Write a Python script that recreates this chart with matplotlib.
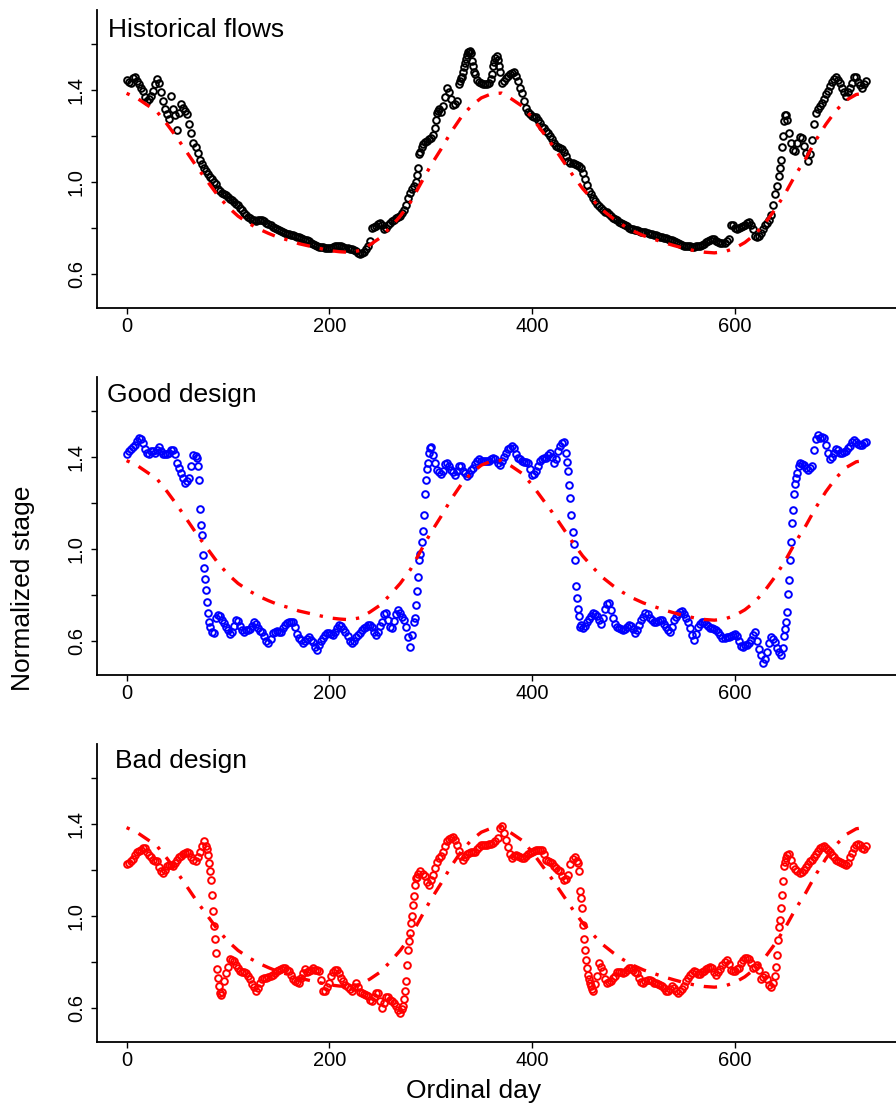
import numpy as np
import matplotlib
matplotlib.use('Agg')
import matplotlib.pyplot as plt

# normalized stage, one value every 2 days (day 0..730), 10 values per row
hist_stage = [
    1.442, 1.435, 1.432, 1.45, 1.455, 1.44, 1.425, 1.41, 1.395, 1.37,      # 0
    1.352, 1.36, 1.372, 1.395, 1.425, 1.446, 1.43, 1.39, 1.35, 1.315,      # 20
    1.294, 1.272, 1.374, 1.316, 1.29, 1.224, 1.30, 1.338, 1.323, 1.31,     # 40
    1.294, 1.25, 1.214, 1.17, 1.15, 1.127, 1.095, 1.078, 1.06, 1.047,      # 60
    1.035, 1.022, 1.012, 0.998, 0.989, 0.97, 0.96, 0.952, 0.945, 0.94,     # 80
    0.932, 0.926, 0.92, 0.912, 0.904, 0.898, 0.886, 0.875, 0.865, 0.856,   # 100
    0.848, 0.84, 0.835, 0.832, 0.83, 0.832, 0.835, 0.834, 0.828, 0.822,    # 120
    0.817, 0.81, 0.804, 0.798, 0.793, 0.789, 0.785, 0.781, 0.777, 0.774,   # 140
    0.772, 0.769, 0.766, 0.763, 0.761, 0.757, 0.754, 0.75, 0.747, 0.744,   # 160
    0.74, 0.735, 0.729, 0.724, 0.72, 0.717, 0.715, 0.714, 0.713, 0.713,    # 180
    0.713, 0.713, 0.715, 0.718, 0.72, 0.72, 0.718, 0.715, 0.713, 0.712,    # 200
    0.709, 0.706, 0.703, 0.697, 0.69, 0.685, 0.688, 0.695, 0.705, 0.72,    # 220
    0.74, 0.80, 0.803, 0.806, 0.815, 0.822, 0.81, 0.795, 0.80, 0.813,      # 240
    0.822, 0.828, 0.834, 0.84, 0.846, 0.851, 0.862, 0.875, 0.9, 0.93,      # 260
    0.95, 0.967, 0.98, 1.00, 1.06, 1.13, 1.163, 1.172, 1.178, 1.184,       # 280
    1.19, 1.205, 1.236, 1.298, 1.316, 1.305, 1.33, 1.37, 1.41, 1.39,       # 300
    1.36, 1.335, 1.34, 1.352, 1.425, 1.45, 1.48, 1.519, 1.55, 1.565,       # 320
    1.56, 1.505, 1.47, 1.445, 1.435, 1.428, 1.425, 1.424, 1.425, 1.43,     # 340
    1.446, 1.505, 1.54, 1.53, 1.48, 1.432, 1.44, 1.45, 1.46, 1.468,        # 360
    1.472, 1.476, 1.46, 1.44, 1.41, 1.388, 1.35, 1.32, 1.305, 1.294,       # 380
    1.288, 1.283, 1.28, 1.27, 1.255, 1.24, 1.232, 1.222, 1.21, 1.20,       # 400
    1.185, 1.17, 1.156, 1.15, 1.145, 1.141, 1.13, 1.11, 1.09, 1.083,       # 420
    1.08, 1.076, 1.072, 1.069, 1.06, 1.04, 1.011, 0.985, 0.96, 0.945,      # 440
    0.93, 0.916, 0.905, 0.893, 0.885, 0.878, 0.87, 0.866, 0.86, 0.852,     # 460
    0.844, 0.838, 0.832, 0.826, 0.82, 0.815, 0.81, 0.805, 0.8, 0.796,      # 480
    0.793, 0.79, 0.788, 0.785, 0.783, 0.781, 0.779, 0.776, 0.774, 0.772,   # 500
    0.77, 0.767, 0.764, 0.761, 0.758, 0.756, 0.753, 0.75, 0.747, 0.744,    # 520
    0.74, 0.736, 0.731, 0.727, 0.724, 0.722, 0.72, 0.719, 0.718, 0.717,    # 540
    0.717, 0.718, 0.72, 0.722, 0.724, 0.73, 0.737, 0.742, 0.748, 0.752,    # 560
    0.75, 0.742, 0.737, 0.734, 0.732, 0.734, 0.742, 0.75, 0.81, 0.812,     # 580
    0.797, 0.793, 0.798, 0.804, 0.807, 0.812, 0.818, 0.825, 0.81, 0.793,   # 600
    0.765, 0.757, 0.765, 0.778, 0.795, 0.81, 0.822, 0.832, 0.855, 0.9,     # 620
    0.945, 0.982, 1.025, 1.094, 1.2, 1.29, 1.27, 1.21, 1.17, 1.14,         # 640
    1.135, 1.17, 1.195, 1.19, 1.155, 1.125, 1.091, 1.12, 1.18, 1.25,       # 660
    1.3, 1.316, 1.33, 1.345, 1.36, 1.38, 1.396, 1.415, 1.435, 1.448,       # 680
    1.454, 1.445, 1.43, 1.41, 1.39, 1.374, 1.39, 1.41, 1.43, 1.455,        # 700
    1.455, 1.435, 1.42, 1.41, 1.425, 1.44,                                 # 720
]
# extra odd days where the record moves fast
hist_extra_days = [287, 289, 291, 305, 307, 329, 331, 333, 335, 337, 339, 341,
                   343, 361, 363, 365, 367, 645, 647, 649, 651]
hist_extra_stage = [1.03, 1.12, 1.15, 1.27, 1.31, 1.44, 1.454, 1.50, 1.535, 1.563,
                    1.57, 1.526, 1.476, 1.47, 1.52, 1.548, 1.505, 1.06, 1.15,
                    1.265, 1.29]

good_stage = [
    1.412, 1.425, 1.434, 1.443, 1.455, 1.47, 1.485, 1.48, 1.46, 1.435,     # 0
    1.42, 1.412, 1.425, 1.428, 1.42, 1.43, 1.444, 1.425, 1.415, 1.412,     # 20
    1.412, 1.42, 1.432, 1.43, 1.415, 1.376, 1.355, 1.33, 1.31, 1.288,      # 40
    1.295, 1.31, 1.36, 1.41, 1.405, 1.36, 1.176, 1.06, 0.917, 0.82,        # 60
    0.72, 0.662, 0.64, 0.635, 0.70, 0.712, 0.71, 0.69, 0.677, 0.66,        # 80
    0.645, 0.63, 0.64, 0.665, 0.69, 0.685, 0.665, 0.648, 0.64, 0.645,      # 100
    0.648, 0.65, 0.665, 0.684, 0.675, 0.655, 0.642, 0.64, 0.62, 0.60,      # 120
    0.589, 0.61, 0.635, 0.64, 0.642, 0.64, 0.64, 0.655, 0.668, 0.677,      # 140
    0.68, 0.682, 0.68, 0.66, 0.63, 0.611, 0.605, 0.59, 0.60, 0.608,        # 160
    0.615, 0.605, 0.597, 0.575, 0.56, 0.58, 0.60, 0.611, 0.625, 0.633,     # 180
    0.635, 0.63, 0.626, 0.64, 0.655, 0.67, 0.665, 0.65, 0.64, 0.62,        # 200
    0.60, 0.589, 0.60, 0.615, 0.625, 0.635, 0.648, 0.655, 0.662, 0.668,    # 220
    0.67, 0.66, 0.64, 0.626, 0.64, 0.665, 0.684, 0.715, 0.72, 0.691,       # 240
    0.66, 0.655, 0.685, 0.715, 0.735, 0.72, 0.705, 0.69, 0.66, 0.615,      # 260
    0.575, 0.626, 0.68, 0.757, 0.88, 0.98, 1.077, 1.24, 1.35, 1.419,       # 280
    1.445, 1.409, 1.375, 1.345, 1.335, 1.326, 1.34, 1.37, 1.375, 1.36,     # 300
    1.345, 1.335, 1.324, 1.34, 1.36, 1.36, 1.34, 1.332, 1.32, 1.325,       # 320
    1.345, 1.354, 1.37, 1.385, 1.39, 1.385, 1.383, 1.383, 1.385, 1.383,    # 340
    1.39, 1.397, 1.39, 1.375, 1.368, 1.385, 1.40, 1.42, 1.434, 1.44,       # 360
    1.448, 1.44, 1.415, 1.397, 1.39, 1.383, 1.38, 1.378, 1.376, 1.35,      # 380
    1.324, 1.325, 1.339, 1.36, 1.383, 1.39, 1.395, 1.397, 1.41, 1.419,     # 400
    1.40, 1.376, 1.39, 1.426, 1.45, 1.46, 1.466, 1.42, 1.339, 1.223,       # 420
    1.074, 0.95, 0.786, 0.706, 0.67, 0.655, 0.665, 0.68, 0.695, 0.71,      # 440
    0.72, 0.715, 0.706, 0.69, 0.672, 0.70, 0.74, 0.76, 0.764, 0.735,       # 460
    0.70, 0.675, 0.66, 0.655, 0.65, 0.648, 0.65, 0.66, 0.67, 0.665,        # 480
    0.65, 0.635, 0.645, 0.67, 0.691, 0.705, 0.72, 0.715, 0.70, 0.69,       # 500
    0.684, 0.68, 0.685, 0.69, 0.69, 0.675, 0.66, 0.645, 0.64, 0.66,        # 520
    0.69, 0.705, 0.715, 0.725, 0.728, 0.715, 0.70, 0.68, 0.655, 0.625,     # 540
    0.604, 0.63, 0.66, 0.672, 0.68, 0.684, 0.675, 0.665, 0.658, 0.655,     # 560
    0.65, 0.645, 0.64, 0.625, 0.612, 0.612, 0.615, 0.618, 0.62, 0.625,     # 580
    0.629, 0.62, 0.60, 0.578, 0.575, 0.58, 0.582, 0.59, 0.604, 0.625,      # 600
    0.64, 0.60, 0.565, 0.538, 0.505, 0.52, 0.553, 0.59, 0.618, 0.61,       # 620
    0.597, 0.57, 0.553, 0.54, 0.57, 0.65, 0.725, 0.865, 1.03, 1.17,        # 640
    1.285, 1.33, 1.376, 1.372, 1.365, 1.355, 1.346, 1.352, 1.36, 1.43,     # 660
    1.48, 1.496, 1.485, 1.49, 1.485, 1.455, 1.42, 1.39, 1.40, 1.42,        # 680
    1.434, 1.43, 1.42, 1.42, 1.423, 1.426, 1.44, 1.45, 1.465, 1.477,       # 700
    1.465, 1.458, 1.452, 1.455, 1.46, 1.466,                               # 720
]
good_extra_days = [69, 71, 73, 75, 77, 79, 81,
                   285, 287, 289, 291, 293, 295, 297, 299,
                   435, 437, 439, 441, 443, 445, 447,
                   649, 651, 653, 655, 657, 659, 661, 663]
good_extra_stage = [1.397, 1.30, 1.106, 0.975, 0.87, 0.77, 0.68,
                    0.70, 0.815, 0.953, 1.03, 1.147, 1.30, 1.376, 1.44,
                    1.38, 1.28, 1.147, 1.02, 0.841, 0.74, 0.662,
                    0.62, 0.68, 0.803, 0.953, 1.113, 1.24, 1.31, 1.36]

bad_stage = [
    1.226, 1.232, 1.238, 1.25, 1.265, 1.28, 1.285, 1.288, 1.295, 1.295,    # 0
    1.28, 1.265, 1.255, 1.245, 1.238, 1.238, 1.215, 1.194, 1.188, 1.20,    # 20
    1.216, 1.222, 1.223, 1.218, 1.23, 1.245, 1.255, 1.262, 1.27, 1.275,    # 40
    1.281, 1.275, 1.255, 1.245, 1.238, 1.255, 1.28, 1.303, 1.328, 1.305,   # 60
    1.267, 1.194, 1.09, 0.955, 0.84, 0.73, 0.665, 0.67, 0.715, 0.75,       # 80
    0.78, 0.814, 0.808, 0.803, 0.787, 0.775, 0.76, 0.758, 0.757, 0.75,     # 100
    0.74, 0.725, 0.705, 0.69, 0.672, 0.685, 0.709, 0.725, 0.73, 0.732,     # 120
    0.735, 0.738, 0.745, 0.752, 0.76, 0.765, 0.77, 0.774, 0.772, 0.765,    # 140
    0.76, 0.745, 0.725, 0.716, 0.712, 0.709, 0.73, 0.752, 0.767, 0.758,    # 160
    0.76, 0.765, 0.772, 0.765, 0.765, 0.76, 0.72, 0.675, 0.672, 0.69,      # 180
    0.71, 0.74, 0.757, 0.765, 0.765, 0.75, 0.73, 0.715, 0.70, 0.69,        # 200
    0.68, 0.672, 0.69, 0.706, 0.69, 0.67, 0.665, 0.66, 0.658, 0.65,        # 220
    0.635, 0.629, 0.645, 0.665, 0.665, 0.63, 0.60, 0.62, 0.645, 0.645,     # 240
    0.635, 0.629, 0.62, 0.607, 0.59, 0.578, 0.595, 0.64, 0.715, 0.854,     # 260
    0.926, 1.0, 1.086, 1.165, 1.185, 1.194, 1.185, 1.175, 1.15, 1.136,     # 280
    1.155, 1.18, 1.21, 1.235, 1.252, 1.262, 1.28, 1.305, 1.325, 1.335,     # 300
    1.34, 1.346, 1.33, 1.31, 1.285, 1.26, 1.245, 1.255, 1.27, 1.275,       # 320
    1.277, 1.28, 1.281, 1.29, 1.30, 1.31, 1.31, 1.31, 1.31, 1.312,         # 340
    1.315, 1.317, 1.325, 1.34, 1.383, 1.39, 1.36, 1.33, 1.30, 1.27,        # 360
    1.252, 1.26, 1.267, 1.262, 1.258, 1.252, 1.252, 1.26, 1.268, 1.274,    # 380
    1.28, 1.285, 1.288, 1.288, 1.288, 1.288, 1.27, 1.245, 1.24, 1.235,     # 400
    1.23, 1.22, 1.21, 1.20, 1.194, 1.175, 1.155, 1.16, 1.18, 1.225,        # 420
    1.25, 1.259, 1.24, 1.194, 1.08, 0.96, 0.854, 0.774, 0.725, 0.695,      # 440
    0.675, 0.705, 0.738, 0.796, 0.78, 0.759, 0.725, 0.709, 0.712, 0.716,   # 460
    0.728, 0.74, 0.755, 0.758, 0.755, 0.752, 0.758, 0.765, 0.772, 0.772,   # 480
    0.765, 0.758, 0.752, 0.73, 0.712, 0.71, 0.715, 0.72, 0.722, 0.715,     # 500
    0.71, 0.709, 0.703, 0.698, 0.694, 0.685, 0.675, 0.672, 0.68, 0.694,    # 520
    0.688, 0.675, 0.665, 0.672, 0.68, 0.695, 0.715, 0.73, 0.742, 0.752,    # 540
    0.759, 0.755, 0.748, 0.748, 0.755, 0.762, 0.767, 0.772, 0.778, 0.775,  # 560
    0.755, 0.745, 0.755, 0.77, 0.785, 0.80, 0.81, 0.79, 0.765, 0.759,      # 580
    0.762, 0.767, 0.772, 0.795, 0.81, 0.815, 0.817, 0.812, 0.795, 0.774,   # 600
    0.78, 0.788, 0.765, 0.725, 0.735, 0.745, 0.725, 0.70, 0.69, 0.709,     # 620
    0.74, 0.832, 0.95, 1.035, 1.151, 1.235, 1.265, 1.27, 1.245, 1.22,      # 640
    1.205, 1.195, 1.187, 1.19, 1.20, 1.215, 1.228, 1.238, 1.245, 1.255,    # 660
    1.27, 1.285, 1.296, 1.30, 1.303, 1.295, 1.288, 1.278, 1.265, 1.255,    # 680
    1.245, 1.238, 1.234, 1.23, 1.226, 1.223, 1.23, 1.255, 1.274, 1.295,    # 700
    1.31, 1.312, 1.31, 1.295, 1.29, 1.303,                                 # 720
]
bad_extra_days = [79, 81, 83, 85, 87, 89, 91, 93,
                  273, 275, 277, 279, 281, 283, 285, 287,
                  445, 447, 449, 451, 453, 455, 457, 459,
                  641, 643, 645, 647, 649, 651]
bad_extra_stage = [1.29, 1.23, 1.155, 1.02, 0.901, 0.767, 0.694, 0.658,
                   0.607, 0.672, 0.788, 0.89, 0.97, 1.046, 1.136, 1.172,
                   1.23, 1.107, 1.035, 0.90, 0.81, 0.745, 0.709, 0.68,
                   0.78, 0.897, 0.984, 1.093, 1.216, 1.252]

# natural (target) seasonal stage, every 10 days
natural_stage = [
    1.385, 1.365, 1.335, 1.305, 1.25, 1.19, 1.125, 1.06, 1.00, 0.94,       # 0
    0.89, 0.85, 0.82, 0.795, 0.775, 0.757, 0.745, 0.73, 0.72, 0.71,        # 100
    0.70, 0.695, 0.692, 0.70, 0.725, 0.755, 0.80, 0.85, 0.91, 0.99,        # 200
    1.07, 1.14, 1.215, 1.28, 1.33, 1.365, 1.383, 1.386, 1.36, 1.33,        # 300
    1.28, 1.22, 1.16, 1.095, 1.03, 0.97, 0.92, 0.875, 0.84, 0.81,          # 400
    0.785, 0.765, 0.75, 0.735, 0.722, 0.71, 0.70, 0.693, 0.69, 0.695,      # 500
    0.71, 0.735, 0.77, 0.82, 0.88, 0.95, 1.03, 1.10, 1.18, 1.25,           # 600
    1.31, 1.355, 1.38, 1.387,                                              # 700
]

days = np.arange(0, 731, 2)
nat_days = np.arange(0, 731, 10)
assert len(hist_stage) == len(days) == len(good_stage) == len(bad_stage)
assert len(natural_stage) == len(nat_days)

plt.rcParams['font.family'] = ['Liberation Sans', 'DejaVu Sans']

W, H = 896, 1103
fig = plt.figure(figsize=(W / 100, H / 100), dpi=100)

panels = [
    (10.0, hist_stage, hist_extra_days, hist_extra_stage, 'black', 'Historical flows', 108, 27),
    (377.3, good_stage, good_extra_days, good_extra_stage, 'blue', 'Good design', 107, 24.5),
    (744.3, bad_stage, bad_extra_days, bad_extra_stage, 'red', 'Bad design', 115, 24),
]
ax_h = 297.5
for top, vals, xd, xv, col, title, tx, tb in panels:
    ax = fig.add_axes([97 / W, 1 - (top + ax_h) / H, 799 / W, ax_h / H])
    x = np.concatenate([days, xd])
    y = np.concatenate([vals, xv])
    ax.plot(x, y, ls='none', marker='o', mfc='none', mec=col,
            ms=4.8, mew=1.4)
    ax.plot(nat_days, natural_stage, color='red', lw=2.4,
            ls=(0, (1, 3, 4, 3)))
    ax.set_xlim(-29.2, 759.2)
    ax.set_ylim(0.452, 1.748)
    for s in ['top', 'right']:
        ax.spines[s].set_visible(False)
    for s in ['left', 'bottom']:
        ax.spines[s].set_linewidth(1.3)
    ax.set_xticks([0, 200, 400, 600])
    ax.set_yticks([0.6, 0.8, 1.0, 1.2, 1.4, 1.6])
    ax.set_yticklabels(['0.6', '', '1.0', '', '1.4', ''], rotation=90, va='center')
    ax.tick_params(length=4.5, width=1.0, labelsize=14.5)
    ax.tick_params(axis='x', pad=2)
    ax.tick_params(axis='y', pad=3.6)
    ax.text((tx - 97) / 799, 1 - tb / ax_h, title, transform=ax.transAxes,
            fontsize=19, va='baseline', ha='left')

fig.text(23 / W, 1 - 588 / H, 'Normalized stage', rotation=90,
         ha='center', va='center', fontsize=19)
fig.text(474 / W, 1 - 1098 / H, 'Ordinal day', ha='center',
         va='baseline', fontsize=19)

fig.savefig('out.png', dpi=100)
